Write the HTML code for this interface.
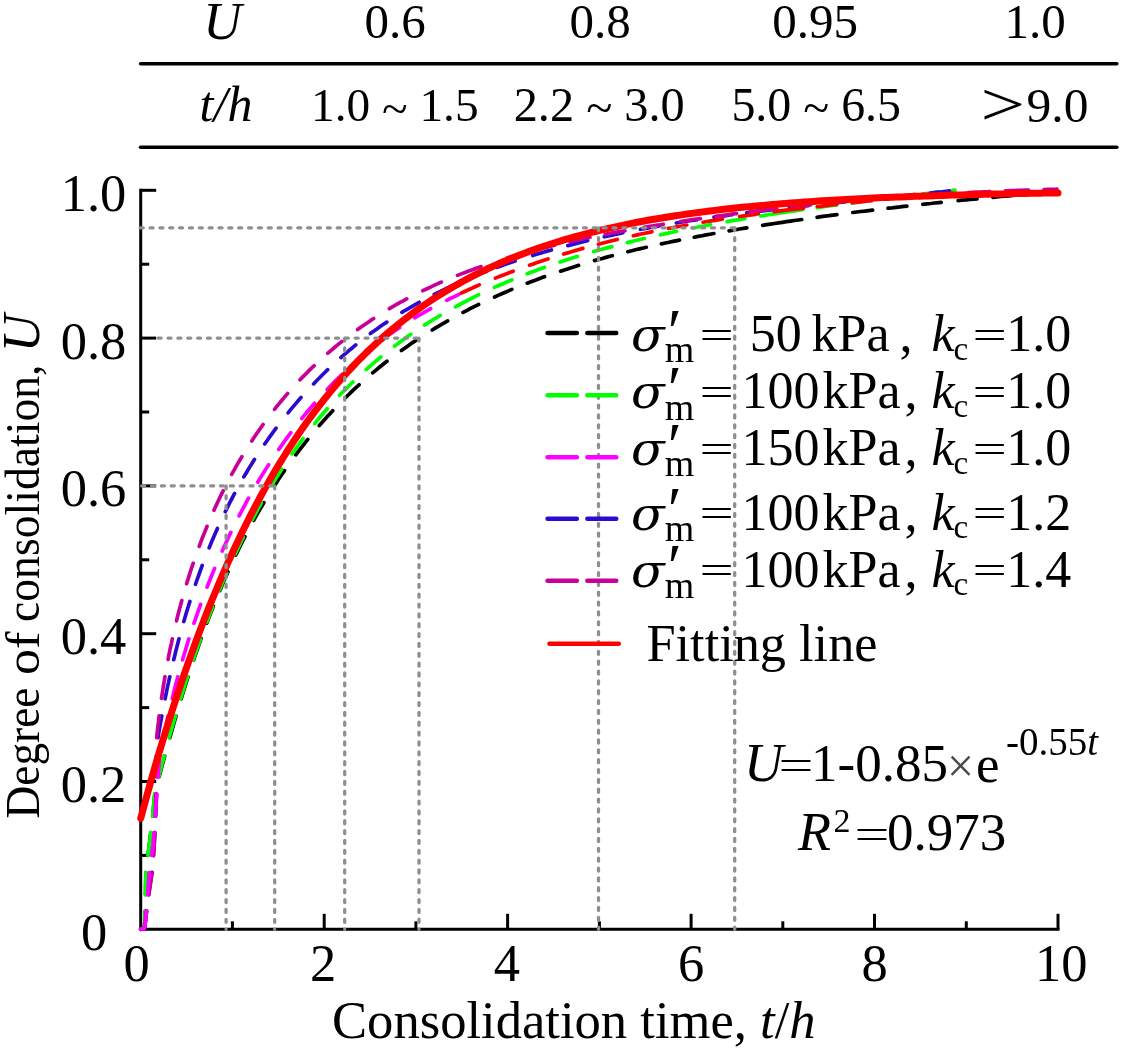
<!DOCTYPE html>
<html lang="en"><head><meta charset="utf-8"><title>Degree of consolidation vs consolidation time</title>
<style>
html,body{margin:0;padding:0;background:#fff;}
svg{display:block;will-change:transform;}
text{white-space:pre;font-family:"Liberation Serif","DejaVu Serif",serif;fill:#000;}
.i{font-style:italic;}
.ax{stroke:#000;stroke-width:3;fill:none;stroke-linecap:butt;}
.g{stroke:#8f8f8f;stroke-width:3.3;fill:none;stroke-linecap:round;stroke-dasharray:3.0 6.85;}
.d{fill:none;stroke-width:3.7;stroke-linecap:round;stroke-linejoin:round;}
.lg{fill:none;stroke-width:4.6;stroke-linecap:round;}
</style></head><body>
<svg width="1123" height="1051" viewBox="0 0 1123 1051">
<rect width="1123" height="1051" fill="#fff"/>
<g id="table">
<line class="ax" style="stroke-width:3.6;stroke-linecap:round" x1="140.6" y1="63.8" x2="1116.8" y2="63.8"/>
<line class="ax" style="stroke-width:3.6;stroke-linecap:round" x1="140.6" y1="147.2" x2="1116.8" y2="147.2"/>
<text class="i" x="222.5" y="38.8" font-size="53" text-anchor="middle">U</text>
<text x="395" y="38" font-size="49" text-anchor="middle">0.6</text>
<text x="600" y="38" font-size="49" text-anchor="middle">0.8</text>
<text x="815" y="38" font-size="49" text-anchor="middle">0.95</text>
<text x="1035" y="38" font-size="49" text-anchor="middle">1.0</text>
<text class="i" x="226" y="121.2" font-size="50" text-anchor="middle">t/h</text>
<text x="394.8" y="121.2" font-size="47.3" text-anchor="middle">1.0 <tspan dy="2.5">~</tspan><tspan dy="-2.5"> 1.5</tspan></text>
<text x="599.2" y="121.2" font-size="48.3" text-anchor="middle">2.2 <tspan dy="2.5">~</tspan><tspan dy="-2.5"> 3.0</tspan></text>
<text x="816.2" y="121.2" font-size="47.9" text-anchor="middle">5.0 <tspan dy="2.5">~</tspan><tspan dy="-2.5"> 6.5</tspan></text>
<text transform="translate(980.6 125.2) scale(1.8 1.39)" font-size="44" x="0" y="0">&gt;</text>
<text x="1026.5" y="122.3" font-size="49.5">9.0</text>
</g>
<g id="axes">
<path class="ax" d="M140.7 188.79999999999995 V929.3 H1059.5"/>
<line class="ax" x1="140.7" y1="855.4" x2="149.2" y2="855.4"/>
<line class="ax" x1="140.7" y1="781.5" x2="156.2" y2="781.5"/>
<line class="ax" x1="140.7" y1="707.6" x2="149.2" y2="707.6"/>
<line class="ax" x1="140.7" y1="633.7" x2="156.2" y2="633.7"/>
<line class="ax" x1="140.7" y1="559.8" x2="149.2" y2="559.8"/>
<line class="ax" x1="140.7" y1="485.9" x2="156.2" y2="485.9"/>
<line class="ax" x1="140.7" y1="412.0" x2="149.2" y2="412.0"/>
<line class="ax" x1="140.7" y1="338.1" x2="156.2" y2="338.1"/>
<line class="ax" x1="140.7" y1="264.2" x2="149.2" y2="264.2"/>
<line class="ax" x1="140.7" y1="190.3" x2="156.2" y2="190.3"/>
<line class="ax" x1="232.4" y1="929.3" x2="232.4" y2="921.3"/>
<line class="ax" x1="324.2" y1="929.3" x2="324.2" y2="913.8"/>
<line class="ax" x1="415.9" y1="929.3" x2="415.9" y2="921.3"/>
<line class="ax" x1="507.6" y1="929.3" x2="507.6" y2="913.8"/>
<line class="ax" x1="599.4" y1="929.3" x2="599.4" y2="921.3"/>
<line class="ax" x1="691.1" y1="929.3" x2="691.1" y2="913.8"/>
<line class="ax" x1="782.8" y1="929.3" x2="782.8" y2="921.3"/>
<line class="ax" x1="874.5" y1="929.3" x2="874.5" y2="913.8"/>
<line class="ax" x1="966.3" y1="929.3" x2="966.3" y2="921.3"/>
<line class="ax" x1="1058.0" y1="929.3" x2="1058.0" y2="913.8"/>
</g>
<g id="curves">
<path class="d" stroke="#000000" d="M140.7 929.3 L144.1 928.1 L144.6 924.2 L145.0 920.2 L145.1 916.2 L145.2 912.2 L145.2 911.2M145.5 894.7 L145.6 890.7 L145.6 886.7 L145.7 882.7 L145.8 878.7 L145.8 874.7 L145.9 872.7M147.9 855.3 L148.5 851.4 L149.0 847.4 L149.5 843.4 L150.0 839.5 L150.4 835.5 L150.8 832.5M152.7 816.1 L153.1 812.1 L153.5 808.2 L153.8 804.2 L154.2 800.2 L154.6 796.2 L154.8 794.2M159.1 776.8 L160.2 772.9 L161.2 769.0 L162.2 765.2 L163.3 761.3 L164.3 757.5 L164.7 756.0M169.8 737.7 L170.9 733.9 L172.0 730.0 L173.1 726.2 L174.2 722.3 L175.3 718.5 L176.0 716.1M181.2 698.8 L182.3 695.0 L183.5 691.2 L184.7 687.4 L185.9 683.6 L187.1 679.7 L188.0 676.9M193.7 659.8 L195.0 656.0 L196.3 652.2 L197.6 648.4 L198.9 644.7 L200.3 640.9 L201.1 638.6M206.8 623.1 L208.2 619.3 L209.7 615.6 L211.1 611.9 L212.6 608.2 L213.3 606.3M219.8 590.6 L221.4 586.9 L222.9 583.2 L224.5 579.6 L226.2 575.9 L227.8 572.2 L228.0 571.8M235.8 555.0 L237.6 551.4 L239.3 547.8 L241.1 544.2 L242.9 540.7 L244.7 537.1 L245.0 536.7M253.7 520.4 L255.6 516.9 L257.6 513.4 L259.6 509.9 L261.6 506.5 L263.6 503.0 L263.9 502.6M274.2 486.0 L276.4 482.7 L278.6 479.3 L280.8 476.0 L283.0 472.7 L284.5 470.6M295.8 454.8 L298.2 451.6 L300.7 448.4 L303.1 445.3 L305.6 442.1 L307.8 439.4M319.3 425.6 L322.0 422.6 L324.6 419.6 L327.3 416.6 L330.0 413.7 L332.7 410.7M345.7 397.5 L348.5 394.7 L351.4 391.9 L354.3 389.2 L357.2 386.5 L359.1 384.8M372.6 372.9 L375.7 370.3 L378.8 367.8 L381.9 365.3 L385.0 362.8 L387.0 361.3M401.4 350.5 L404.7 348.2 L407.9 345.9 L411.2 343.6 L414.5 341.4 L416.6 340.0M432.2 330.0 L435.6 327.9 L439.1 325.9 L442.5 323.8 L446.0 321.8 L447.7 320.9M463.0 312.4 L466.6 310.6 L470.1 308.7 L473.7 306.9 L477.3 305.2 L478.6 304.5M494.5 297.0 L498.1 295.4 L501.8 293.7 L505.4 292.2 L509.1 290.6 L511.9 289.4M527.2 283.2 L530.9 281.8 L534.6 280.4 L538.4 279.0 L542.1 277.6 L544.5 276.7M560.6 271.2 L564.3 269.9 L568.2 268.7 L572.0 267.4 L575.8 266.2 L578.6 265.4M594.5 260.6 L598.3 259.5 L602.2 258.5 L606.0 257.4 L609.9 256.3 L612.3 255.7M627.8 251.7 L631.7 250.8 L635.5 249.8 L639.4 248.9 L643.3 248.0 L646.3 247.3M661.4 243.9 L665.3 243.0 L669.2 242.2 L673.1 241.4 L677.0 240.6 L679.5 240.1M694.2 237.2 L698.1 236.4 L702.1 235.7 L706.0 234.9 L709.9 234.2 L713.9 233.5M729.1 230.8 L733.1 230.2 L737.0 229.5 L741.0 228.8 L744.9 228.2 L746.9 227.9M762.7 225.3 L766.6 224.7 L770.6 224.1 L774.5 223.5 L778.5 222.9 L782.4 222.3 L786.4 221.7 L790.4 221.1 L794.3 220.5 L798.3 220.0 L801.7 219.5M817.1 217.3 L821.0 216.7 L825.0 216.2 L829.0 215.7 L832.9 215.1 L836.9 214.6M852.8 212.5 L856.7 212.0 L860.7 211.5 L864.7 211.1 L868.6 210.6 L872.6 210.1M888.0 208.2 L892.0 207.8 L896.0 207.3 L899.9 206.9 L903.9 206.4 L906.9 206.1M922.8 204.3 L926.8 203.9 L930.7 203.5 L934.7 203.0 L938.7 202.6 L941.2 202.4M958.1 200.6 L962.1 200.2 L966.1 199.9 L970.0 199.5 L974.0 199.1 L977.0 198.8M992.9 197.3 L996.9 196.9 L1000.9 196.5 L1004.9 196.2 L1008.9 195.8 L1012.4 195.5M1028.3 194.1 L1032.3 193.8 L1036.3 193.4 L1040.2 193.1 L1044.2 192.7 L1048.2 192.4"/>
<path class="d" stroke="#00ff00" d="M140.7 929.3 L144.1 928.1 L144.6 924.2 L145.0 920.2 L145.1 916.2 L145.2 912.2 L145.2 911.2M145.5 894.7 L145.6 890.7 L145.6 886.7 L145.7 882.7 L145.8 878.7 L145.8 874.7 L145.9 872.7M147.9 855.3 L148.5 851.4 L149.0 847.4 L149.5 843.4 L150.0 839.5 L150.4 835.5 L150.8 832.5M152.7 816.1 L153.0 812.1 L153.4 808.2 L153.8 804.2 L154.1 800.2 L154.5 796.2 L154.6 794.2M158.8 776.7 L159.8 772.8 L160.8 769.0 L161.8 765.1 L162.8 761.2 L163.9 757.4 L164.2 755.9M169.2 737.6 L170.3 733.7 L171.4 729.9 L172.5 726.0 L173.6 722.2 L174.7 718.3 L175.4 715.9M180.6 698.7 L181.8 694.9 L183.0 691.1 L184.2 687.3 L185.4 683.4 L186.6 679.6 L187.5 676.8M193.2 659.7 L194.5 655.9 L195.8 652.1 L197.1 648.4 L198.5 644.6 L199.8 640.8 L200.5 638.9M206.7 622.0 L208.1 618.3 L209.6 614.6 L211.0 610.8 L212.5 607.1 L212.7 606.7M219.4 590.0 L221.0 586.3 L222.5 582.6 L224.1 578.9 L225.7 575.3 L226.7 573.0M235.3 553.8 L237.1 550.2 L238.8 546.6 L240.5 543.0 L242.3 539.4 L243.4 537.2M252.3 519.8 L254.1 516.3 L256.0 512.8 L257.9 509.2 L259.9 505.7 L261.3 503.1M271.7 485.4 L273.7 482.0 L275.8 478.6 L278.0 475.2 L280.1 471.8 L281.7 469.3M292.0 453.9 L294.3 450.6 L296.6 447.4 L299.0 444.1 L301.3 440.9 L303.1 438.5M314.8 423.5 L317.3 420.4 L319.9 417.3 L322.4 414.3 L325.1 411.2 L327.4 408.6M339.5 395.3 L342.3 392.5 L345.1 389.6 L347.9 386.8 L350.8 384.0 L352.9 381.9M366.1 369.6 L369.1 367.0 L372.1 364.3 L375.2 361.7 L378.2 359.2 L380.9 356.9M394.6 346.1 L397.8 343.7 L401.1 341.3 L404.3 338.9 L407.5 336.6 L410.8 334.3M424.5 325.1 L427.9 323.0 L431.3 320.9 L434.7 318.8 L438.1 316.7 L440.3 315.4M455.5 306.8 L459.0 304.9 L462.5 303.0 L466.1 301.1 L469.6 299.3 L473.2 297.5 L476.8 295.7 L478.6 294.8M494.4 287.4 L498.1 285.8 L501.7 284.2 L505.4 282.6 L509.1 281.0 L511.9 279.9M527.2 273.8 L530.9 272.3 L534.7 270.9 L538.4 269.6 L542.2 268.2 L544.5 267.3M560.1 262.0 L563.9 260.7 L567.7 259.5 L571.6 258.3 L575.4 257.1 L577.3 256.5M593.6 251.6 L597.4 250.5 L601.3 249.5 L605.1 248.4 L609.0 247.4 L611.9 246.6M627.4 242.6 L631.3 241.6 L635.1 240.7 L639.0 239.7 L642.9 238.8 L644.4 238.5M660.5 234.8 L664.4 233.9 L668.3 233.1 L672.2 232.3 L676.1 231.4 L676.6 231.3M692.8 228.0 L696.7 227.3 L700.6 226.5 L704.6 225.8 L708.5 225.0 L710.5 224.6M727.2 221.6 L731.1 220.9 L735.1 220.2 L739.0 219.6 L742.9 218.9 L744.9 218.6M760.7 216.0 L764.7 215.4 L768.6 214.7 L772.6 214.1 L776.5 213.5 L780.5 212.9 L784.4 212.3 L788.4 211.7 L792.3 211.1 L796.3 210.6 L800.3 210.0 L802.7 209.6M817.1 207.6 L821.1 207.1 L825.0 206.5 L829.0 206.0 L832.9 205.5 L836.9 204.9M851.8 203.0 L855.7 202.5 L859.7 202.0 L863.7 201.5 L867.7 200.9 L871.6 200.4M887.5 198.4 L891.5 198.0 L895.4 197.5 L899.4 197.0 L903.4 196.5 L906.3 196.1M922.2 194.1 L926.2 193.6 L930.2 193.2 L934.1 192.7 L938.1 192.2 L940.6 191.9M952.5 190.4 L955.0 190.1"/>
<path class="d" stroke="#2b0bd0" d="M140.7 929.3 L144.4 928.4 L145.0 924.5 L145.6 920.5 L146.0 916.6 L146.4 912.6 L146.6 911.1M148.7 894.7 L149.2 890.8 L149.8 886.8 L150.3 882.8 L150.9 878.9 L151.4 874.9 L151.8 872.4M153.3 855.5 L153.7 851.5 L153.9 847.5 L154.2 843.5 L154.4 839.6 L154.7 835.6 L154.8 832.6M155.7 816.1 L155.9 812.1 L156.1 808.1 L156.2 804.1 L156.3 800.1 L156.4 796.1 L156.5 794.1M156.9 776.6 L157.0 772.6 L157.1 768.6 L157.2 764.6 L157.3 760.6 L157.4 756.6 L157.4 755.6M158.0 737.6 L158.6 733.7 L159.3 729.7 L160.0 725.8 L160.7 721.9 L161.4 717.9 L161.8 716.0M165.1 698.8 L165.9 694.9 L166.7 690.9 L167.5 687.0 L168.4 683.1 L169.2 679.2 L169.8 676.8M173.7 659.7 L174.7 655.8 L175.6 652.0 L176.6 648.1 L177.6 644.2 L178.6 640.3 L179.0 638.9M183.8 621.5 L184.9 617.7 L186.0 613.9 L187.2 610.0 L188.4 606.2 L189.6 602.4 L189.9 601.4M195.5 584.3 L196.8 580.5 L198.1 576.8 L199.5 573.0 L200.8 569.3 L202.2 565.5M209.2 547.8 L210.7 544.1 L212.2 540.4 L213.8 536.7 L215.4 533.1 L217.0 529.4 L217.4 528.5M225.3 511.7 L227.0 508.2 L228.8 504.6 L230.6 501.0 L232.5 497.5 L234.3 493.9 L234.6 493.5M243.8 476.9 L245.9 473.5 L247.9 470.0 L250.0 466.6 L252.1 463.2 L254.2 459.8 L254.5 459.4M264.7 444.0 L267.0 440.7 L269.3 437.4 L271.7 434.2 L274.0 431.0 L276.1 428.2M288.1 412.8 L290.6 409.7 L293.2 406.6 L295.8 403.6 L298.4 400.5 L301.0 397.5M313.6 383.9 L316.3 381.0 L319.1 378.2 L322.0 375.3 L324.8 372.5 L327.7 369.7M340.9 357.5 L343.9 354.9 L347.0 352.3 L350.0 349.7 L353.1 347.2 L355.8 344.9M370.4 333.6 L373.6 331.2 L376.9 328.9 L380.2 326.6 L383.4 324.3 L386.8 322.1M401.9 312.4 L405.3 310.3 L408.8 308.3 L412.2 306.3 L415.7 304.3 L419.2 302.3M434.2 294.4 L437.8 292.6 L441.4 290.8 L445.0 289.1 L448.6 287.4 L452.2 285.7 L453.6 285.1M468.3 278.7 L472.0 277.1 L475.7 275.6 L479.4 274.1 L483.1 272.6 L486.4 271.4M497.1 267.3 L500.9 266.0 L504.7 264.6 L508.4 263.3 L512.2 262.0 L515.1 261.1M532.7 255.5 L536.5 254.3 L540.3 253.2 L544.2 252.0 L548.0 250.9 L551.4 250.0M567.8 245.6 L571.7 244.6 L575.6 243.6 L579.4 242.6 L583.3 241.7 L587.2 240.7 L587.7 240.6M604.3 236.8 L608.2 235.9 L612.1 235.1 L616.0 234.3 L619.9 233.4 L622.9 232.8M640.5 229.3 L644.4 228.6 L648.4 227.9 L652.3 227.1 L656.2 226.4 L659.7 225.8M676.4 223.0 L680.4 222.3 L684.3 221.7 L688.3 221.0 L692.2 220.4 L696.2 219.8 L696.7 219.8M714.0 217.2 L718.0 216.6 L721.9 216.1 L725.9 215.6 L729.9 215.0 L732.3 214.7M746.7 212.8 L750.7 212.3 L754.7 211.8 L758.6 211.3 L762.6 210.9 L766.6 210.4 L770.5 209.9 L773.5 209.6M789.4 207.7 L793.4 207.3 L797.4 206.9 L801.3 206.4 L805.3 206.0 L808.3 205.7M825.7 203.8 L829.7 203.4 L833.7 203.0 L837.6 202.6 L841.6 202.2 L844.6 201.9M861.5 200.2 L865.5 199.8 L869.5 199.3 L873.5 198.9 L877.4 198.5 L880.4 198.2M897.3 196.5 L901.3 196.1 L905.3 195.7 L909.3 195.3 L913.2 194.9 L914.7 194.7M930.2 193.1 L934.1 192.6 L938.1 192.2 L942.1 191.8 L946.1 191.3 L949.5 190.9"/>
<path class="d" stroke="#c8009a" d="M140.7 929.3 L144.4 928.4 L145.0 924.5 L145.6 920.5 L146.0 916.6 L146.4 912.6 L146.6 911.1M148.8 894.7 L149.4 890.8 L150.0 886.8 L150.6 882.9 L151.2 878.9 L151.9 875.0 L152.3 872.5M153.6 855.6 L153.9 851.6 L154.1 847.6 L154.3 843.6 L154.5 839.6 L154.7 835.6 L154.9 832.6M155.4 816.1 L155.5 812.1 L155.6 808.1 L155.7 804.1 L155.8 800.1 L155.9 796.1 L155.9 794.1M156.2 776.6 L156.2 772.6 L156.3 768.6 L156.3 764.6 L156.4 760.6 L156.4 756.6 L156.4 755.6M156.7 737.6 L157.1 733.6 L157.5 729.7 L158.0 725.7 L158.5 721.7 L158.9 717.8 L159.2 715.8M161.5 698.4 L162.1 694.5 L162.7 690.5 L163.3 686.6 L164.0 682.6 L164.6 678.7 L165.0 676.7M168.1 659.5 L168.8 655.5 L169.6 651.6 L170.4 647.7 L171.3 643.8 L172.1 639.9 L172.3 638.9M176.5 620.9 L177.4 617.0 L178.4 613.1 L179.4 609.2 L180.5 605.4 L181.5 601.5 L181.8 600.6M186.6 583.7 L187.8 579.9 L189.0 576.1 L190.2 572.3 L191.4 568.5 L192.7 564.7 L193.2 563.3M199.2 546.3 L200.6 542.6 L202.0 538.8 L203.5 535.1 L205.0 531.4 L206.5 527.7 L207.0 526.3M214.0 510.2 L215.6 506.6 L217.3 503.0 L219.0 499.3 L220.7 495.7 L222.5 492.1 L223.2 490.8M231.7 474.4 L233.7 470.9 L235.6 467.4 L237.6 463.9 L239.6 460.5 L241.7 457.0 L241.9 456.6M251.8 441.0 L254.0 437.6 L256.2 434.3 L258.5 431.0 L260.8 427.7 L263.1 424.5M274.5 409.3 L277.0 406.2 L279.5 403.1 L282.1 400.0 L284.7 396.9 L287.3 393.9 L287.6 393.5M300.0 379.8 L302.8 376.9 L305.6 374.1 L308.4 371.2 L311.3 368.4 L314.2 365.7M327.8 353.2 L330.9 350.6 L333.9 348.0 L337.0 345.4 L340.1 342.9 L342.0 341.4M357.6 329.6 L360.8 327.2 L364.1 324.9 L367.4 322.7 L370.7 320.4 L373.6 318.5M389.3 308.7 L392.8 306.7 L396.2 304.7 L399.7 302.7 L403.2 300.8 L406.7 298.9M422.8 290.7 L426.4 289.0 L430.0 287.3 L433.6 285.6 L437.3 283.9 L440.9 282.3 L441.4 282.1M457.5 275.4 L461.3 273.9 L465.0 272.5 L468.7 271.0 L472.5 269.7 L476.2 268.3 L480.0 266.9 L481.0 266.6M507.1 258.1 L510.9 256.9 L514.7 255.8 L518.6 254.7 L520.5 254.1M534.5 250.3 L538.4 249.2 L542.2 248.2 L546.1 247.3 L550.0 246.3 L553.9 245.4 L554.4 245.2M570.0 241.6 L573.9 240.8 L577.8 239.9 L581.7 239.1 L585.6 238.2 L589.5 237.4 L590.0 237.3M605.2 234.3 L609.1 233.6 L613.1 232.8 L617.0 232.1 L620.9 231.4 L624.9 230.7M644.1 227.3 L648.0 226.7 L652.0 226.0 L655.9 225.4 L659.9 224.8 L663.3 224.2M680.6 221.5 L684.6 220.9 L688.5 220.3 L692.5 219.7 L696.4 219.1 L700.4 218.6M715.7 216.4 L719.7 215.8 L723.7 215.3 L727.6 214.8 L731.6 214.2 L735.6 213.7 L736.6 213.6M749.9 211.9 L753.9 211.4 L757.9 210.9 L761.9 210.4 L765.8 209.9 L769.8 209.4 L773.8 209.0 L776.8 208.6M791.7 206.9 L795.6 206.5 L799.6 206.0 L803.6 205.6 L807.6 205.2 L810.5 204.9M827.5 203.2 L831.4 202.8 L835.4 202.4 L839.4 202.0 L843.4 201.7 L847.4 201.3M864.3 199.8 L868.3 199.5 L872.3 199.1 L876.3 198.8 L880.3 198.5 L884.2 198.2 L884.7 198.1M901.7 196.8 L905.7 196.5 L909.7 196.3 L913.7 196.0 L917.6 195.7 L921.6 195.4M938.6 194.3 L942.6 194.1 L946.6 193.9 L950.6 193.6 L953.6 193.5M968.6 192.6 L972.6 192.4 L976.5 192.2 L980.5 192.0 L984.5 191.8 L988.5 191.7 L990.0 191.6M1005.5 190.9 L1009.5 190.7 L1013.5 190.6 L1017.5 190.4 L1021.5 190.3 L1025.5 190.1 L1028.5 190.0M1044.0 189.5 L1048.0 189.4 L1052.0 189.3 L1056.0 189.2 L1057.0 189.1"/>
<path class="d" stroke="#ff00ff" d="M140.7 929.3 L144.4 928.4 L145.0 924.5 L145.6 920.5 L146.0 916.6 L146.4 912.6 L146.6 911.1M147.7 894.6 L148.0 890.6 L148.2 886.6 L148.5 882.7 L148.8 878.7 L149.1 874.7 L149.2 872.7M151.6 855.3 L152.2 851.4 L152.7 847.4 L153.2 843.5 L153.5 839.5 L153.8 835.5 L154.0 832.5M155.2 816.0 L155.5 812.0 L155.8 808.1 L156.1 804.1 L156.4 800.1 L156.7 796.1 L156.9 794.1M158.1 776.6 L158.4 772.7 L158.7 768.7 L159.0 764.7 L159.3 760.7 L159.7 756.7 L159.8 755.7M163.4 737.6 L164.2 733.6 L165.0 729.7 L165.9 725.8 L166.7 721.9 L167.6 718.0 L168.0 716.1M172.2 698.6 L173.2 694.7 L174.1 690.8 L175.1 686.9 L176.1 683.0 L177.2 679.2 L177.8 676.8M182.5 659.9 L183.7 656.1 L184.8 652.2 L186.0 648.4 L187.1 644.6 L188.3 640.8 L188.9 638.9M194.0 623.2 L195.3 619.4 L196.6 615.6 L198.0 611.8 L199.3 608.1 L200.6 604.3M207.1 587.0 L208.6 583.3 L210.1 579.5 L211.6 575.8 L213.1 572.1 L214.6 568.4M222.2 551.0 L223.8 547.4 L225.5 543.7 L227.2 540.1 L228.9 536.5 L230.6 532.9 L230.8 532.4M239.1 515.9 L240.9 512.3 L242.8 508.8 L244.7 505.3 L246.6 501.7 L248.5 498.2M257.8 482.2 L259.8 478.8 L261.9 475.4 L264.0 472.0 L266.1 468.6 L268.3 465.2 L268.6 464.8M278.8 449.4 L281.1 446.1 L283.4 442.8 L285.7 439.6 L288.1 436.3 L290.5 433.1 L290.8 432.7M301.8 418.5 L304.3 415.4 L306.9 412.3 L309.4 409.3 L312.0 406.2 L314.6 403.2M327.1 389.5 L329.8 386.6 L332.6 383.7 L335.4 380.9 L338.3 378.0 L341.1 375.2 L341.8 374.5M353.5 363.6 L356.5 361.0 L359.5 358.3 L362.6 355.7 L365.6 353.1 L368.7 350.6 L369.1 350.3M381.7 340.4 L384.9 338.0 L388.1 335.6 L391.4 333.3 L394.6 331.0 L397.9 328.7 L399.6 327.6M414.7 317.9 L418.1 315.8 L421.6 313.8 L425.0 311.8 L428.5 309.8 L430.7 308.6M446.7 300.3 L450.3 298.5 L453.9 296.8 L457.5 295.1 L458.4 294.7"/>
<path class="d" stroke="#ff0000" d="M461.1 293.2 L464.7 291.5 L468.3 289.8 L472.0 288.2 L475.6 286.5 L479.3 284.9M495.4 278.1 L499.1 276.6 L502.8 275.2 L506.6 273.7 L510.3 272.3 L513.1 271.2M529.5 265.2 L533.3 263.9 L537.1 262.6 L540.9 261.3 L544.7 260.0 L548.0 259.0M563.7 254.0 L567.6 252.9 L571.4 251.7 L575.3 250.6 L579.1 249.5 L582.9 248.4M598.4 244.2 L602.3 243.2 L606.1 242.3 L610.0 241.3 L613.9 240.3 L617.3 239.5M633.4 235.8 L637.3 234.9 L641.2 234.0 L645.1 233.2 L649.0 232.4 L651.9 231.7M668.6 228.4 L672.5 227.7 L676.5 226.9 L680.4 226.2 L684.3 225.5 L686.8 225.0M703.1 222.2 L707.0 221.5 L711.0 220.9 L714.9 220.3 L718.9 219.6 L722.3 219.1M739.6 216.5 L743.6 215.9 L747.5 215.4 L751.5 214.8 L755.5 214.3 L758.4 213.8M774.3 211.7 L778.3 211.2 L782.2 210.7 L786.2 210.2 L790.2 209.7 L794.1 209.3 L798.1 208.8 L802.1 208.3 L803.6 208.1M817.5 206.5 L821.5 206.1 L825.4 205.6 L829.4 205.2 L833.4 204.7 L836.4 204.4M852.3 202.7 L856.2 202.3 L860.2 201.9 L864.2 201.4 L868.2 201.0 L871.7 200.6"/>
</g>
<path d="M140.7 818.4 L145.3 801.3 L149.9 784.7 L154.5 768.5 L159.1 752.7 L163.7 737.4 L168.4 722.5 L173.0 708.0 L177.6 693.8 L182.2 680.1 L186.8 666.8 L191.4 653.8 L196.0 641.1 L200.6 628.9 L205.2 616.9 L209.8 605.3 L214.5 594.0 L219.1 583.0 L223.7 572.3 L228.3 561.8 L232.9 551.7 L237.5 541.9 L242.1 532.3 L246.7 523.0 L251.3 513.9 L255.9 505.1 L260.5 496.5 L265.2 488.1 L269.8 480.0 L274.4 472.1 L279.0 464.4 L283.6 457.0 L288.2 449.7 L292.8 442.6 L297.4 435.7 L302.0 429.1 L306.6 422.5 L311.3 416.2 L315.9 410.1 L320.5 404.1 L325.1 398.2 L329.7 392.6 L334.3 387.1 L338.9 381.7 L343.5 376.5 L348.1 371.4 L352.7 366.5 L357.3 361.7 L362.0 357.0 L366.6 352.4 L371.2 348.0 L375.8 343.7 L380.4 339.5 L385.0 335.5 L389.6 331.5 L394.2 327.7 L398.8 323.9 L403.4 320.3 L408.1 316.7 L412.7 313.3 L417.3 309.9 L421.9 306.7 L426.5 303.5 L431.1 300.4 L435.7 297.4 L440.3 294.5 L444.9 291.7 L449.5 288.9 L454.1 286.2 L458.8 283.6 L463.4 281.0 L468.0 278.6 L472.6 276.2 L477.2 273.8 L481.8 271.6 L486.4 269.3 L491.0 267.2 L495.6 265.1 L500.2 263.0 L504.9 261.1 L509.5 259.1 L514.1 257.3 L518.7 255.4 L523.3 253.7 L527.9 251.9 L532.5 250.3 L537.1 248.6 L541.7 247.0 L546.3 245.5 L550.9 244.0 L555.6 242.5 L560.2 241.1 L564.8 239.7 L569.4 238.4 L574.0 237.0 L578.6 235.8 L583.2 234.5 L587.8 233.3 L592.4 232.2 L597.0 231.0 L601.7 229.9 L606.3 228.8 L610.9 227.8 L615.5 226.8 L620.1 225.8 L624.7 224.8 L629.3 223.9 L633.9 222.9 L638.5 222.0 L643.1 221.2 L647.8 220.3 L652.4 219.5 L657.0 218.7 L661.6 218.0 L666.2 217.2 L670.8 216.5 L675.4 215.8 L680.0 215.1 L684.6 214.4 L689.2 213.7 L693.8 213.1 L698.5 212.5 L703.1 211.9 L707.7 211.3 L712.3 210.7 L716.9 210.1 L721.5 209.6 L726.1 209.1 L730.7 208.6 L735.3 208.1 L739.9 207.6 L744.6 207.1 L749.2 206.7 L753.8 206.2 L758.4 205.8 L763.0 205.4 L767.6 204.9 L772.2 204.5 L776.8 204.2 L781.4 203.8 L786.0 203.4 L790.6 203.1 L795.3 202.7 L799.9 202.4 L804.5 202.0 L809.1 201.7 L813.7 201.4 L818.3 201.1 L822.9 200.8 L827.5 200.5 L832.1 200.2 L836.7 200.0 L841.4 199.7 L846.0 199.5 L850.6 199.2 L855.2 199.0 L859.8 198.7 L864.4 198.5 L869.0 198.3 L873.6 198.1 L878.2 197.8 L882.8 197.6 L887.4 197.4 L892.1 197.2 L896.7 197.1 L901.3 196.9 L905.9 196.7 L910.5 196.5 L915.1 196.3 L919.7 196.2 L924.3 196.0 L928.9 195.9 L933.5 195.7 L938.2 195.6 L942.8 195.4 L947.4 195.3 L952.0 195.1 L956.6 195.0 L961.2 194.9 L965.8 194.8 L970.4 194.6 L975.0 194.5 L979.6 194.4 L984.2 194.3 L988.9 194.2 L993.5 194.1 L998.1 194.0 L1002.7 193.9 L1007.3 193.8 L1011.9 193.7 L1016.5 193.6 L1021.1 193.5 L1025.7 193.4 L1030.3 193.3 L1035.0 193.2 L1039.6 193.2 L1044.2 193.1 L1048.8 193.0 L1053.4 192.9 L1058.0 192.9" fill="none" stroke="#ff0000" stroke-width="7.0" stroke-linecap="round" stroke-linejoin="round"/>
<g id="guides">
<path class="g" d="M141.7 485.9 H274.7"/>
<path class="g" d="M158.2 338.1 H419.0"/>
<path class="g" d="M140.2 227.8 H734.7"/>
<path class="g" d="M226.1 485.9 V929.3"/>
<path class="g" d="M274.7 485.9 V929.3"/>
<path class="g" d="M344.7 338.1 V929.3"/>
<path class="g" d="M419.0 338.1 V929.3"/>
<path class="g" d="M598.5 227.8 V929.3"/>
<path class="g" d="M734.7 227.8 V929.3"/>
</g>
<g id="ticklabels" font-size="52.5">
<text x="93.5" y="210.7" text-anchor="middle">1.0</text>
<text x="93.5" y="358.5" text-anchor="middle">0.8</text>
<text x="93.5" y="506.3" text-anchor="middle">0.6</text>
<text x="93.5" y="654.1" text-anchor="middle">0.4</text>
<text x="93.5" y="801.9" text-anchor="middle">0.2</text>
<text x="94" y="949.6" text-anchor="middle">0</text>
<text x="136.5" y="980.7" text-anchor="middle">0</text>
<text x="323.2" y="980.7" text-anchor="middle">2</text>
<text x="506.8" y="980.7" text-anchor="middle">4</text>
<text x="691.1" y="980.7" text-anchor="middle">6</text>
<text x="874.5" y="980.7" text-anchor="middle">8</text>
<text x="1061.2" y="980.7" text-anchor="middle">10</text>
</g>
<text x="573.8" y="1038" font-size="52.6" text-anchor="middle">Consolidation time, <tspan class="i">t</tspan>/<tspan class="i">h</tspan></text>
<g id="ylabel" font-size="48.5">
<text transform="translate(39.2 818.5) rotate(-90)" textLength="131" lengthAdjust="spacingAndGlyphs">Degree</text>
<text transform="translate(39.2 675) rotate(-90)" textLength="43.5" lengthAdjust="spacingAndGlyphs">of</text>
<text transform="translate(39.2 622) rotate(-90)" textLength="257.5" lengthAdjust="spacingAndGlyphs">consolidation,</text>
<text class="i" font-size="52.5" transform="translate(39.2 352.3) rotate(-90)">U</text>
</g>
<g id="legend">
<path class="lg" stroke="#000000" d="M547.6 333.0 H576.8 M587.4 333.0 H616.2"/>
<text class="i" transform="translate(631 351.0) scale(1.05 1)" font-size="47" style="font-family:'DejaVu Serif',serif">σ</text>
<text x="667.8" y="352.5" font-size="64">′</text>
<text x="664.8" y="362.2" font-size="38">m</text>
<text transform="translate(699.5 348.6) scale(1.17 0.78)" font-size="52">=</text>
<text x="749.8" y="351.0" font-size="52">50</text>
<text x="811.5" y="351.0" font-size="52">kPa</text>
<text x="899.5" y="351.0" font-size="52">,</text>
<text class="i" x="931.5" y="351.0" font-size="52">k</text>
<text x="953.5" y="359.5" font-size="33">c</text>
<text transform="translate(972.5 348.6) scale(1.17 0.78)" font-size="52">=</text>
<text x="1006.3" y="351.0" font-size="52">1.0</text>
<path class="lg" stroke="#00ff00" d="M547.6 395.3 H576.8 M587.4 395.3 H616.2"/>
<text class="i" transform="translate(631 408.3) scale(1.05 1)" font-size="47" style="font-family:'DejaVu Serif',serif">σ</text>
<text x="667.8" y="409.8" font-size="64">′</text>
<text x="664.8" y="419.5" font-size="38">m</text>
<text transform="translate(699.5 405.9) scale(1.17 0.78)" font-size="52">=</text>
<text x="741.5" y="408.3" font-size="52">100</text>
<text x="822.5" y="408.3" font-size="52">kPa</text>
<text x="904.5" y="408.3" font-size="52">,</text>
<text class="i" x="931.5" y="408.3" font-size="52">k</text>
<text x="953.5" y="416.8" font-size="33">c</text>
<text transform="translate(972.5 405.9) scale(1.17 0.78)" font-size="52">=</text>
<text x="1006.3" y="408.3" font-size="52">1.0</text>
<path class="lg" stroke="#ff00ff" d="M547.6 457.3 H576.8 M587.4 457.3 H616.2"/>
<text class="i" transform="translate(631 465.2) scale(1.05 1)" font-size="47" style="font-family:'DejaVu Serif',serif">σ</text>
<text x="667.8" y="466.7" font-size="64">′</text>
<text x="664.8" y="476.4" font-size="38">m</text>
<text transform="translate(699.5 462.8) scale(1.17 0.78)" font-size="52">=</text>
<text x="741.5" y="465.2" font-size="52">150</text>
<text x="822.5" y="465.2" font-size="52">kPa</text>
<text x="904.5" y="465.2" font-size="52">,</text>
<text class="i" x="931.5" y="465.2" font-size="52">k</text>
<text x="953.5" y="473.7" font-size="33">c</text>
<text transform="translate(972.5 462.8) scale(1.17 0.78)" font-size="52">=</text>
<text x="1006.3" y="465.2" font-size="52">1.0</text>
<path class="lg" stroke="#2b0bd0" d="M547.6 518.8 H576.8 M587.4 518.8 H616.2"/>
<text class="i" transform="translate(631 529.7) scale(1.05 1)" font-size="47" style="font-family:'DejaVu Serif',serif">σ</text>
<text x="667.8" y="531.2" font-size="64">′</text>
<text x="664.8" y="540.9" font-size="38">m</text>
<text transform="translate(699.5 527.3) scale(1.17 0.78)" font-size="52">=</text>
<text x="741.5" y="529.7" font-size="52">100</text>
<text x="822.5" y="529.7" font-size="52">kPa</text>
<text x="904.5" y="529.7" font-size="52">,</text>
<text class="i" x="931.5" y="529.7" font-size="52">k</text>
<text x="953.5" y="538.2" font-size="33">c</text>
<text transform="translate(972.5 527.3) scale(1.17 0.78)" font-size="52">=</text>
<text x="1006.3" y="529.7" font-size="52">1.2</text>
<path class="lg" stroke="#c8009a" d="M547.6 580.7 H576.8 M587.4 580.7 H616.2"/>
<text class="i" transform="translate(631 586.8) scale(1.05 1)" font-size="47" style="font-family:'DejaVu Serif',serif">σ</text>
<text x="667.8" y="588.3" font-size="64">′</text>
<text x="664.8" y="598.0" font-size="38">m</text>
<text transform="translate(699.5 584.4) scale(1.17 0.78)" font-size="52">=</text>
<text x="741.5" y="586.8" font-size="52">100</text>
<text x="822.5" y="586.8" font-size="52">kPa</text>
<text x="904.5" y="586.8" font-size="52">,</text>
<text class="i" x="931.5" y="586.8" font-size="52">k</text>
<text x="953.5" y="595.3" font-size="33">c</text>
<text transform="translate(972.5 584.4) scale(1.17 0.78)" font-size="52">=</text>
<text x="1006.3" y="586.8" font-size="52">1.4</text>
<path class="lg" stroke="#ff0000" d="M549.5 643.7 H618.7"/>
<text x="646.5" y="661.4" font-size="52.3">Fitting line</text>
</g>
<g id="equation">
<text class="i" x="744" y="781" font-size="54">U</text>
<text transform="translate(778.6 778.6) scale(1.17 0.78)" font-size="53">=</text>
<text x="811" y="781" font-size="53">1-0.85</text>
<text x="947" y="781.5" font-size="48" fill="#4a4a4a" style="fill:#4a4a4a">×</text>
<text x="976" y="781.5" font-size="53">e</text>
<text x="1006" y="755" font-size="39">-0.55<tspan class="i">t</tspan></text>
<text class="i" x="798" y="850.3" font-size="54">R</text>
<text x="833.5" y="831.7" font-size="34">2</text>
<text transform="translate(854.6 847.9) scale(1.17 0.78)" font-size="53">=</text>
<text x="887" y="850.3" font-size="53">0.973</text>
</g>
</svg></body></html>
